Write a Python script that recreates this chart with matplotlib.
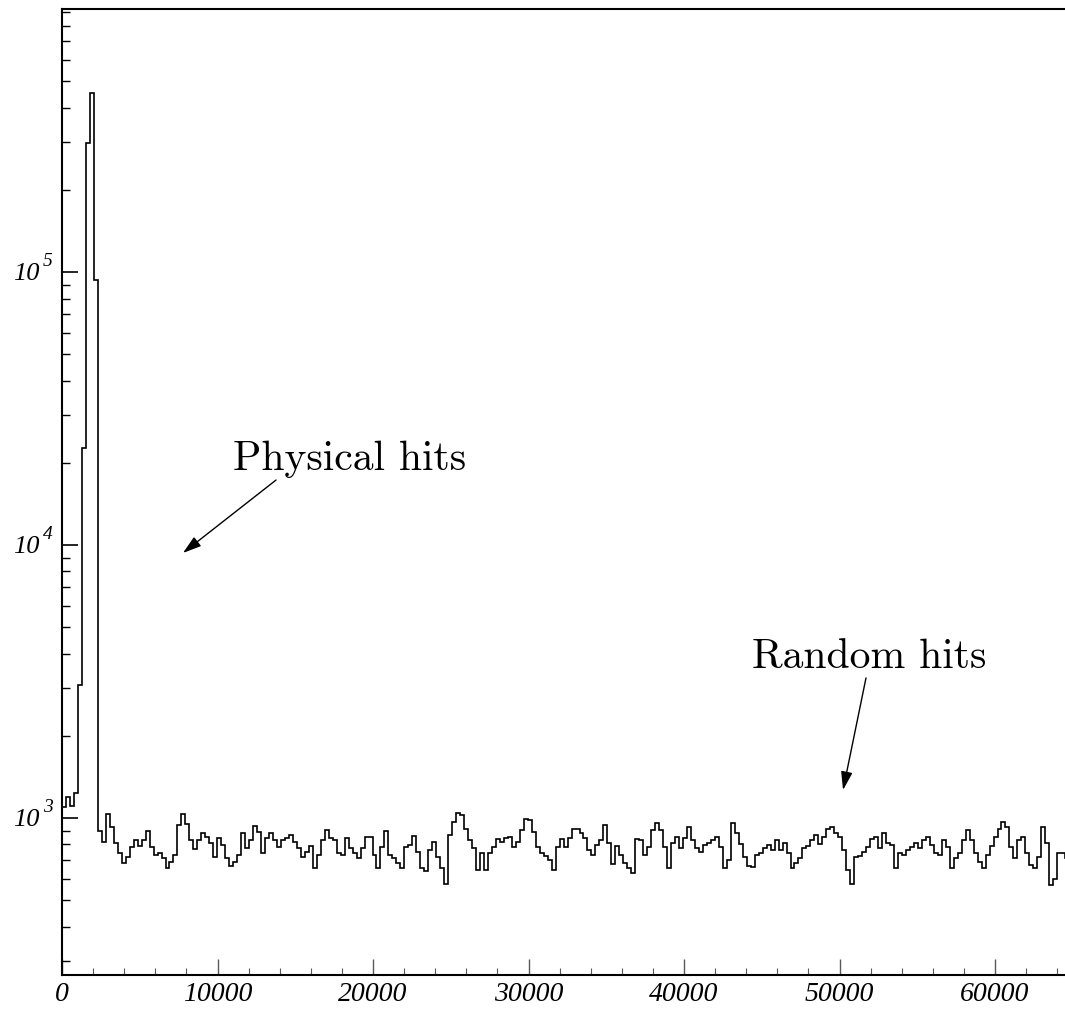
import numpy as np
import matplotlib.pyplot as plt
from matplotlib.ticker import FixedLocator, LogLocator, NullFormatter

# histogram of hit times, 256 channels per bin
bin_width = 256
peak_counts = [1100, 1190, 1110, 1240, 3070, 22600, 297000, 453000, 93500]
noise_a = [896, 817, 1034, 927, 810, 745, 684, 720, 783, 831,
           790, 831, 896, 783, 732, 745, 714, 656, 690, 732,
           943, 1034, 950, 831, 770, 831, 881, 852, 810, 720,
           845, 796, 714, 667, 690, 732, 881, 777, 831, 935,
           889, 745, 845, 881, 831, 783, 831, 845, 867, 817,
           777, 720, 751, 790, 656, 732, 831, 904, 845, 831,
           745, 732, 845, 777, 745, 714, 777, 852, 852, 732,
           656, 783, 896, 732, 714, 684, 656, 783, 796, 859,
           751, 656, 640, 764, 817, 720, 656, 575, 867, 967,
           1043, 1025, 911, 831, 777, 645, 745, 645, 745, 783,
           838, 817, 845, 852, 783, 817, 904, 992, 983, 889,
           783, 745, 726, 702, 645, 783, 838, 783, 845, 911]
noise_b = [911, 881, 845, 764, 732, 796, 831, 943, 810, 678,
           790, 732, 684, 656, 630, 838, 831, 732, 783, 904,
           959, 904, 783, 656, 810, 852, 777, 845, 927, 831,
           777, 751, 796, 810, 831, 852, 783, 656, 702, 960,
           881, 803, 720, 667, 661, 732, 745, 777, 796, 764,
           831, 764, 810, 745, 656, 684, 714, 777, 790, 831,
           867, 803, 852, 911, 927, 881, 852, 764, 645, 575,
           720, 726, 751, 783, 838, 852, 777, 881, 810, 796,
           656, 745, 732, 764, 783, 810, 777, 831, 852, 796,
           745, 732, 831, 783, 656, 714, 745, 831, 904, 831,
           745, 690, 656, 732, 790, 852, 911, 967, 927, 783,
           714, 831, 852, 745, 673, 656, 720, 927, 810, 570,
           600, 745, 745, 714, 732]
counts = np.array(peak_counts + noise_a + noise_b, dtype=float)

x_ticks = [0, 10000, 20000, 30000, 40000, 50000, 60000]
x_tick_labels = ['0', '10000', '20000', '30000', '40000', '50000', '60000']
y_decades = [1e3, 1e4, 1e5]
y_exponents = ['3', '4', '5']

tick_font = dict(family='Liberation Serif', style='italic')

fig = plt.figure(figsize=(10.65, 10.13), dpi=100)
ax = fig.add_axes([62 / 1065, 38 / 1013, 1003 / 1065, 966 / 1013])

edges = np.arange(len(counts) + 1) * bin_width
ax.stairs(counts, edges, baseline=None, color='black', linewidth=1.2)

ax.set_yscale('log')
ax.set_xlim(0, 64500)
ax.set_ylim(266, 9.2e5)

for side in ['left', 'bottom', 'top']:
    ax.spines[side].set_linewidth(1.5)
ax.spines['right'].set_visible(False)

# x axis
ax.xaxis.set_major_locator(FixedLocator(x_ticks))
ax.xaxis.set_minor_locator(FixedLocator(np.arange(2000, 64500, 2000)))
ax.set_xticklabels(x_tick_labels, fontsize=20, **tick_font)
ax.tick_params(axis='x', which='major', direction='in', length=11.5, width=1.0,
               color='0.35', pad=5, top=False)
ax.tick_params(axis='x', which='minor', direction='in', length=5, width=0.8,
               color='0.35', top=False)

# y axis, labels drawn by hand as 10 + superscript
ax.yaxis.set_major_locator(FixedLocator(y_decades))
ax.yaxis.set_minor_locator(LogLocator(base=10, subs=np.arange(2, 10)))
ax.yaxis.set_major_formatter(NullFormatter())
ax.yaxis.set_minor_formatter(NullFormatter())
ax.tick_params(axis='y', which='major', direction='in', length=11.5, width=1.2,
               right=False)
ax.tick_params(axis='y', which='minor', direction='in', length=5.5, width=1.0,
               right=False)

for val, exp in zip(y_decades, y_exponents):
    ax.annotate('10', xy=(0, val), xycoords=('axes fraction', 'data'),
                xytext=(-22 * 0.72, -8 * 0.72), textcoords='offset points',
                ha='right', va='baseline', fontsize=19, **tick_font)
    ax.annotate(exp, xy=(0, val), xycoords=('axes fraction', 'data'),
                xytext=(-19 * 0.72, 6 * 0.72), textcoords='offset points',
                ha='left', va='baseline', fontsize=14, **tick_font)

# annotations
ax.text(0.1705, 0.5228, 'Physical hits', transform=ax.transAxes,
        family='cmr10', fontsize=30, ha='left', va='baseline')
ax.annotate('', xy=(0.1206, 0.4369), xytext=(0.2134, 0.5124),
            xycoords='axes fraction', textcoords='axes fraction',
            arrowprops=dict(arrowstyle='-|>,head_length=0.8,head_width=0.25',
                            color='black', lw=1.0,
                            mutation_scale=14, shrinkA=0, shrinkB=0))

ax.text(0.688, 0.3178, 'Random hits', transform=ax.transAxes,
        family='cmr10', fontsize=30, ha='left', va='baseline')
ax.annotate('', xy=(0.7787, 0.1915), xytext=(0.8016, 0.3075),
            xycoords='axes fraction', textcoords='axes fraction',
            arrowprops=dict(arrowstyle='-|>,head_length=0.8,head_width=0.25',
                            color='black', lw=1.0,
                            mutation_scale=14, shrinkA=0, shrinkB=0))

fig.savefig('out.png', dpi=100)
